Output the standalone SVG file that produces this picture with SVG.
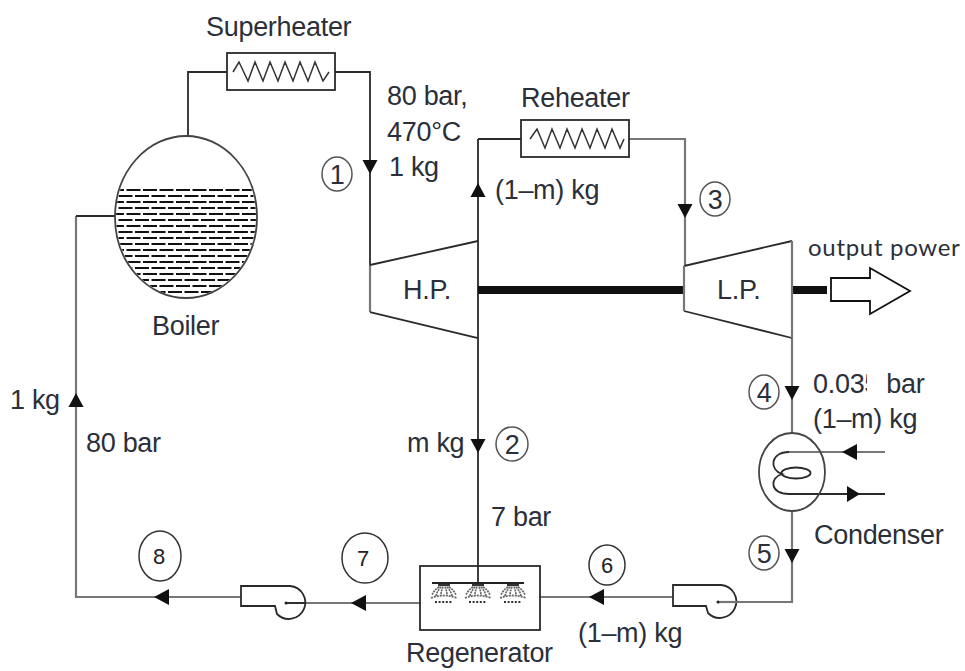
<svg xmlns="http://www.w3.org/2000/svg" width="965" height="671" viewBox="0 0 965 671">
<style>
text{font-family:"Liberation Sans",Arial,sans-serif;font-size:27px;letter-spacing:-.3px;fill:#2b2f3a}
.n{font-size:27px;text-anchor:middle}
.s{font-size:22px;text-anchor:middle;fill:#222}
.o{font-family:Lato,"Liberation Sans",sans-serif;font-size:24px;letter-spacing:.7px}
.k{fill:none;stroke:#2a2a2a;stroke-width:1.8}
.g{fill:none;stroke:#777;stroke-width:2.2}
.t{fill:none;stroke:#333;stroke-width:1.5}
.c{fill:none;stroke:#555;stroke-width:1.5}
.sh{fill:#111;stroke:none}
.d1{stroke:#111;stroke-width:1.8;stroke-dasharray:14 2.5}
.d2{stroke:#111;stroke-width:1.8;stroke-dasharray:14 2.5;stroke-dashoffset:8}
</style>
<defs>
<path id="ad" class="sh" d="M-7.5 0H7.5L0 14Z"/>
<path id="al" class="sh" d="M0 0L15 -8V8Z"/>
<path id="ar" class="sh" d="M0 -8L13 0L0 8Z"/>
<clipPath id="bc"><ellipse cx="186" cy="217" rx="70" ry="80"/></clipPath>
<g id="spray" fill="none" stroke="#666">
<path d="M-6 2H6" stroke="#333" stroke-width="2.5"/>
<path d="M-5 4Q-10 7 -12 12M5 4Q10 7 12 12M-3 4Q-7 8 -8 13M3 4Q7 8 8 13M-1 4Q-3 8 -3 13M1 4Q3 8 3 13" stroke-width="1.7" stroke-dasharray="2 .8"/>
<path d="M-13 15Q0 10 13 15" stroke-width="1.8" stroke-dasharray="2 1"/>
<path d="M-9 19H9" stroke="#333" stroke-width="2" stroke-dasharray="2 1.6"/>
</g>
</defs>
<rect width="965" height="671" fill="#fff"/>
<g id="connectors">
<path class="k" d="M227 72H188V136"/>
<path class="k" d="M335 72H370V265"/>
<path class="g" d="M370 265V312"/>
<path class="k" d="M478 139H521"/>
<path class="g" d="M629 139H685V266"/>
<path class="k" d="M478 139V583"/>
<path class="g" d="M792 338V433"/>
<path class="g" d="M792 511V602H721"/>
<path class="g" d="M673 597H540"/>
<path class="g" d="M420 603H286"/>
<path class="g" d="M241 597H76V216"/>
<path class="k" d="M76 216H115"/>
<path class="g" d="M885 452H789"/>
<path class="k" d="M885 494H789"/>
<path fill="none" stroke="#111" stroke-width="8" d="M478 290H684M792 290H827"/>
<use href="#ad" x="370" y="160"/>
<use href="#ad" transform="translate(478 197) scale(1 -1)"/>
<use href="#ad" x="685" y="204"/>
<use href="#ad" x="792" y="386"/>
<use href="#ad" x="792" y="549"/>
<use href="#ad" x="478" y="439"/>
<use href="#ad" transform="translate(76 407) scale(1 -1)"/>
<use href="#al" x="154" y="597"/>
<use href="#al" x="351" y="603"/>
<use href="#al" x="589" y="597"/>
<use href="#al" x="842" y="452"/>
<use href="#ar" x="847" y="494"/>
</g>
<g id="superheater">
<rect class="k" x="227" y="53" width="108" height="37"/>
<path class="t" d="M233 72L239 62L248 81L255 62L263 81L270 62L278 81L285 62L293 81L300 62L308 81L315 62L323 81L329 72"/>
<text x="206" y="36">Superheater</text>
</g>
<g id="reheater">
<rect class="k" x="521" y="120" width="108" height="37"/>
<path class="t" d="M530 139L537 129L545 148L552 129L560 148L567 129L575 148L582 129L590 148L597 129L605 148L612 129L620 148L624 139"/>
<text x="521" y="107">Reheater</text>
</g>
<g id="boiler">
<g clip-path="url(#bc)">
<path class="d1" d="M110 190H262M110 202H262M110 214H262M110 226H262M110 238H262M110 250H262M110 262H262M110 274H262M110 286H262"/>
<path class="d2" d="M110 196H262M110 208H262M110 220H262M110 232H262M110 244H262M110 256H262M110 268H262M110 280H262M110 292H262"/>
</g>
<ellipse cx="186" cy="217" rx="71" ry="81" fill="none" stroke="#444" stroke-width="1.8"/>
<text x="152" y="335">Boiler</text>
</g>
<g id="hp">
<path class="k" d="M370 265L478 241M370 312L478 338"/>
<text x="403" y="299">H.P.</text>
</g>
<g id="lp">
<path class="k" d="M684 266L792 241M684 311L792 338"/>
<path class="g" d="M684 266V311M792 241V338"/>
<text x="717" y="299">L.P.</text>
</g>
<g id="output">
<path fill="#fff" stroke="#111" stroke-width="1.8" d="M831 278H870V268L910 291L870 314V301H831Z"/>
<text class="o" x="808" y="256">output power</text>
</g>
<g id="condenser">
<ellipse cx="792" cy="472" rx="33" ry="39" fill="none" stroke="#444" stroke-width="1.8"/>
<ellipse cx="796" cy="473" rx="14.5" ry="5.5" class="k"/>
<path class="k" d="M789 452C770 452 769 470 782 474C769 478 770 494 789 494"/>
<text x="814" y="544">Condenser</text>
</g>
<g id="pump1">
<path class="k" d="M241 586H290A16.500 16.500 0 1 1 277 614L275 606H241Z" fill="#fff"/>
<path class="k" d="M286 603H306"/><circle cx="286" cy="603" r="1.500" fill="#222"/>
</g>
<g id="pump2">
<path class="k" d="M673 585H721A16.500 16.500 0 1 1 708 613L706 606H673Z" fill="#fff"/>
<path class="g" d="M718 602H737"/><circle cx="718" cy="602" r="1.500" fill="#222"/>
</g>
<g id="regenerator">
<rect class="k" x="420" y="566" width="120" height="64"/>
<path fill="none" stroke="#222" stroke-width="2" d="M432 583H524"/>
<use href="#spray" x="444" y="583"/>
<use href="#spray" x="478" y="583"/>
<use href="#spray" x="513" y="583"/>
<text x="406" y="662">Regenerator</text>
</g>
<g id="state1"><ellipse class="c" cx="337" cy="174" rx="15" ry="17"/><text class="n" x="337" y="184">1</text></g>
<g id="state2"><ellipse class="c" cx="512" cy="444" rx="16" ry="17"/><text class="n" x="512" y="454">2</text></g>
<g id="state3"><ellipse class="c" cx="715" cy="199" rx="15" ry="17"/><text class="n" x="715" y="209">3</text></g>
<g id="state4"><ellipse class="c" cx="764" cy="392" rx="15" ry="17"/><text class="n" x="764" y="402">4</text></g>
<g id="state5"><ellipse class="c" cx="764" cy="553" rx="15" ry="17"/><text class="n" x="764" y="563">5</text></g>
<g id="state6"><ellipse class="t" cx="607" cy="565" rx="18" ry="20"/><text class="s" x="607" y="573">6</text></g>
<g id="state7"><ellipse class="t" cx="365" cy="558" rx="23" ry="25"/><text class="s" x="363" y="566">7</text></g>
<g id="state8"><ellipse class="t" cx="160" cy="556" rx="21" ry="25"/><text class="s" x="159" y="564">8</text></g>
<g id="labels">
<text x="387" y="105">80 bar,</text>
<text x="387" y="141">470°C</text>
<text x="389" y="176">1 kg</text>
<text x="495" y="199">(1–m) kg</text>
<text x="10" y="409">1 kg</text>
<text x="86" y="452">80 bar</text>
<text x="407" y="452">m kg</text>
<text x="491" y="526">7 bar</text>
<text x="578" y="642">(1–m) kg</text>
<text x="813" y="393">0.035 bar</text>
<rect x="867" y="372" width="15" height="25" fill="#fff"/>
<text x="813" y="428">(1–m) kg</text>
</g>
</svg>
